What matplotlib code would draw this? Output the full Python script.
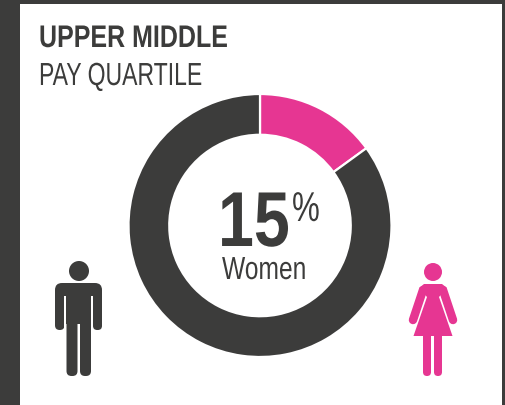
import matplotlib
matplotlib.use("Agg")
import matplotlib.pyplot as plt
from matplotlib.font_manager import FontProperties
from matplotlib.patches import Circle, FancyBboxPatch, Polygon, Rectangle
from matplotlib.text import Text
from matplotlib.textpath import TextPath
from matplotlib.transforms import Affine2D, Bbox

title_bold = "UPPER MIDDLE"
title_light = "PAY QUARTILE"
labels = ["Women", "Men"]
shares = [15, 85]
share_text = "15"

DARK = "#3c3c3b"
PINK = "#e63692"


class CondensedText(Text):
    """A real text artist drawn with a horizontal squeeze (no condensed face is installed)."""

    def __init__(self, *args, squeeze=1.0, **kwargs):
        super().__init__(*args, **kwargs)
        self._squeeze = squeeze

    def _layout_path(self):
        fp = FontProperties(family=self.get_fontfamily(), weight=self.get_fontweight(),
                            size=self.get_fontsize())
        return TextPath((0, 0), self.get_text(), prop=fp)

    def _origin(self):
        return self.get_transform().transform(self.get_unitless_position())

    def _scale(self, dpi):
        return dpi / 72.0

    def get_window_extent(self, renderer=None, dpi=None):
        d = dpi or self.get_figure(root=True).dpi
        s = self._scale(d)
        ext = self._layout_path().get_extents()
        x, y = self._origin()
        return Bbox.from_extents(x + ext.x0 * s * self._squeeze, y + ext.y0 * s,
                                 x + ext.x1 * s * self._squeeze, y + ext.y1 * s)

    def draw(self, renderer):
        if not self.get_visible():
            return
        fig = self.get_figure(root=True)
        s = self._scale(fig.dpi)
        x, y = self._origin()
        gc = renderer.new_gc()
        gc.set_linewidth(0)
        gc.set_antialiased(True)
        trans = Affine2D().scale(s * self._squeeze, s).translate(x, y)
        renderer.draw_path(gc, self._layout_path(), trans,
                           rgbFace=matplotlib.colors.to_rgba(self.get_color()))
        gc.restore()
        self.stale = False


fig = plt.figure(figsize=(5.06, 4.06), dpi=100, facecolor=DARK)
bg = fig.add_axes([0, 0, 1, 1])
bg.set_xlim(0, 506)
bg.set_ylim(406, 0)
bg.axis("off")
bg.add_patch(Rectangle((20, 5), 482, 401, fc="white", ec="none"))

# donut
cx, cy, R = 260, 226.5, 131.5
pie_ax = fig.add_axes([(cx - R) / 506, 1 - (cy + R) / 406, 2 * R / 506, 2 * R / 406])
pie_ax.pie(shares, colors=[PINK, DARK], startangle=90, counterclock=False, radius=1,
           wedgeprops=dict(width=0.31, edgecolor="white", linewidth=1.6))
pie_ax.set_xlim(-1, 1)
pie_ax.set_ylim(-1, 1)

top = fig.add_axes([0, 0, 1, 1])
top.set_xlim(0, 506)
top.set_ylim(406, 0)
top.axis("off")
top.patch.set_alpha(0)


def put(x, y, s, size, squeeze, weight="normal"):
    t = CondensedText(x, y, s, squeeze=squeeze, family="Liberation Sans", weight=weight,
                      fontsize=size, color=DARK, transform=top.transData)
    top.add_artist(t)
    return t


put(39, 48, title_bold, 22.5, 0.80, "bold")
put(39, 86, title_light, 23, 0.72)
put(218, 247, share_text, 56, 0.83, "bold")
put(292, 222, "%", 30, 0.75)
put(222, 280, labels[0], 23, 0.77)


def rbox(x0, y0, x1, y1, r, color):
    top.add_patch(FancyBboxPatch((x0 + r, y0 + r), x1 - x0 - 2 * r, y1 - y0 - 2 * r,
                                 boxstyle=f"round,pad={r},rounding_size={r}",
                                 fc=color, ec="none"))


# man icon
top.add_patch(Circle((79, 272), 10, fc=DARK, ec="none"))
rbox(55, 284, 102, 310, 7, DARK)
rbox(55, 295, 64.5, 331, 4.7, DARK)
rbox(93, 295, 102, 331, 4.2, DARK)
top.add_patch(Rectangle((64.5, 297), 2, 40, fc="white", ec="none"))
top.add_patch(Rectangle((91, 297), 2, 40, fc="white", ec="none"))
rbox(66.5, 320, 77.5, 377, 5, DARK)
rbox(80, 320, 91, 377, 5, DARK)
top.add_patch(Rectangle((66.5, 284), 24.5, 41, fc=DARK, ec="none"))

# woman icon
top.add_patch(Circle((433, 273), 9, fc=PINK, ec="none"))
top.add_patch(Polygon([(424, 285), (442, 285), (447, 289), (439, 298), (452.5, 337),
                       (413.5, 337), (427, 298), (419, 289)], fc=PINK, ec="none"))
top.plot([423, 413], [291, 321], color=PINK, lw=6.1, solid_capstyle="round")
top.plot([443, 453], [291, 321], color=PINK, lw=6.1, solid_capstyle="round")
rbox(423, 330, 431, 377, 4, PINK)
rbox(434, 330, 442, 377, 4, PINK)

fig.savefig("out.png", dpi=100, facecolor=DARK)
